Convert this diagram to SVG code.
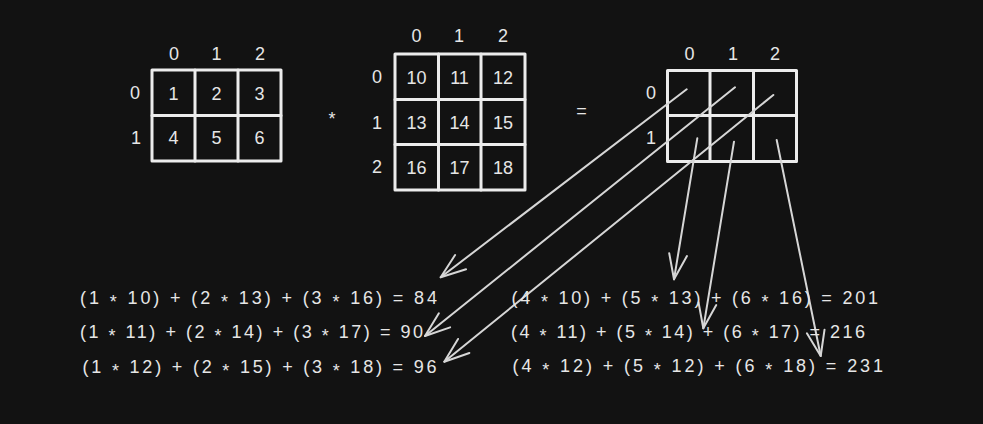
<svg xmlns="http://www.w3.org/2000/svg" width="983" height="424" viewBox="0 0 983 424">
<defs>
<style>
.bg{fill:#121212}
.box{fill:none;stroke:#ececec;stroke-width:3;stroke-linejoin:round;stroke-linecap:round}
.t{font-family:"Liberation Sans",Arial,sans-serif;font-size:18px;fill:#e6e6e6;text-anchor:middle}
.eq{font-family:"Liberation Sans",Arial,sans-serif;font-size:18px;fill:#e6e6e6}
.m{baseline-shift:-4px}
.arr{fill:none;stroke:#d6d6d6;stroke-width:2;stroke-linecap:round}
</style>
<marker id="ah" markerUnits="userSpaceOnUse" markerWidth="40" markerHeight="40" viewBox="-30 -20 40 40" refX="0" refY="0" orient="auto" overflow="visible">
<path d="M-25,-9 L0,0 L-25,9" fill="none" stroke="#d6d6d6" stroke-width="2" stroke-linecap="round" stroke-linejoin="round"/>
</marker>
</defs>
<rect class="bg" x="0" y="0" width="983" height="424"/>

<g id="matrixA">
<rect class="box" x="152" y="70" width="129" height="91"/>
<path class="box" d="M195,70V161M238,70V161M152,115.5H281"/>
<text class="t" x="174" y="59.5">0</text>
<text class="t" x="216.5" y="59.5">1</text>
<text class="t" x="260" y="59.5">2</text>
<text class="t" x="135" y="98.5">0</text>
<text class="t" x="136" y="143.5">1</text>
<text class="t" x="173.5" y="99.5">1</text>
<text class="t" x="216.5" y="99.5">2</text>
<text class="t" x="259.5" y="99.5">3</text>
<text class="t" x="173.5" y="143.5">4</text>
<text class="t" x="216.5" y="143.5">5</text>
<text class="t" x="259.5" y="143.5">6</text>
</g>

<g id="times">
<text class="t" x="332" y="125">*</text>
</g>

<g id="matrixB">
<rect class="box" x="395" y="54" width="130" height="136"/>
<path class="box" d="M438.5,54V190M481,54V190M395,99.5H525M395,144.5H525"/>
<text class="t" x="416.5" y="41.5">0</text>
<text class="t" x="459" y="41.5">1</text>
<text class="t" x="503" y="41.5">2</text>
<text class="t" x="377" y="83">0</text>
<text class="t" x="377" y="129">1</text>
<text class="t" x="377" y="173">2</text>
<text class="t" x="416.5" y="83.5">10</text>
<text class="t" x="459.5" y="83.5">11</text>
<text class="t" x="503" y="83.5">12</text>
<text class="t" x="416.5" y="129">13</text>
<text class="t" x="459.5" y="129">14</text>
<text class="t" x="503" y="129">15</text>
<text class="t" x="416.5" y="173.5">16</text>
<text class="t" x="459.5" y="173.5">17</text>
<text class="t" x="503" y="173.5">18</text>
</g>

<g id="equals">
<text class="t" x="581.5" y="117">=</text>
</g>

<g id="matrixC">
<rect class="box" x="667.5" y="70.5" width="129" height="91"/>
<path class="box" d="M710,70.5V161.5M753.5,70.5V161.5M667.5,115.5H796.5"/>
<text class="t" x="689.5" y="59.5">0</text>
<text class="t" x="733" y="59.5">1</text>
<text class="t" x="775" y="59.5">2</text>
<text class="t" x="651" y="99">0</text>
<text class="t" x="651" y="144">1</text>
</g>

<g id="connectors">
<line class="arr" x1="686.7" y1="89.3" x2="440.7" y2="277.3" marker-end="url(#ah)"/>
<line class="arr" x1="735" y1="87.3" x2="425" y2="336" marker-end="url(#ah)"/>
<line class="arr" x1="773.3" y1="95" x2="444.3" y2="361.7" marker-end="url(#ah)"/>
<line class="arr" x1="697.3" y1="138.3" x2="674" y2="279.3" marker-end="url(#ah)"/>
<line class="arr" x1="734" y1="141.7" x2="703.3" y2="328.3" marker-end="url(#ah)"/>
<line class="arr" x1="776.7" y1="140" x2="820.7" y2="356" marker-end="url(#ah)"/>
</g>

<g id="equationsLeft">
<text class="eq" x="80" y="303.5" textLength="357" lengthAdjust="spacing">(1 <tspan class="m">*</tspan> 10) + (2 <tspan class="m">*</tspan> 13) + (3 <tspan class="m">*</tspan> 16) = 84</text>
<text class="eq" x="80" y="337.5" textLength="343" lengthAdjust="spacing">(1 <tspan class="m">*</tspan> 11) + (2 <tspan class="m">*</tspan> 14) + (3 <tspan class="m">*</tspan> 17) = 90</text>
<text class="eq" x="82.5" y="372.5" textLength="354" lengthAdjust="spacing">(1 <tspan class="m">*</tspan> 12) + (2 <tspan class="m">*</tspan> 15) + (3 <tspan class="m">*</tspan> 18) = 96</text>
</g>

<g id="equationsRight">
<text class="eq" x="511.5" y="303.5" textLength="366.5" lengthAdjust="spacing">(4 <tspan class="m">*</tspan> 10) + (5 <tspan class="m">*</tspan> 13) + (6 <tspan class="m">*</tspan> 16) = 201</text>
<text class="eq" x="511" y="337.5" textLength="354" lengthAdjust="spacing">(4 <tspan class="m">*</tspan> 11) + (5 <tspan class="m">*</tspan> 14) + (6 <tspan class="m">*</tspan> 17) = 216</text>
<text class="eq" x="512.5" y="372" textLength="370.5" lengthAdjust="spacing">(4 <tspan class="m">*</tspan> 12) + (5 <tspan class="m">*</tspan> 12) + (6 <tspan class="m">*</tspan> 18) = 231</text>
</g>
</svg>
